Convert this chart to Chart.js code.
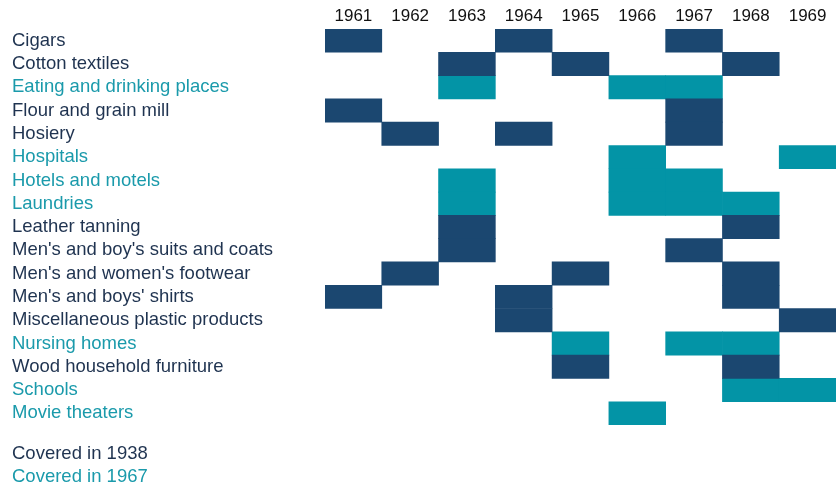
<!DOCTYPE html>
<html>
<head>
<meta charset="utf-8">
<script src="https://cdn.jsdelivr.net/npm/chart.js@4/dist/chart.umd.min.js"></script>
<style>
    html, body { margin: 0; padding: 0; background: #ffffff; overflow: hidden; }
    #wrap { position: relative; width: 836px; height: 487px; }
    .legend-line { position: absolute; left: 12px; font: 18.5px "Liberation Sans", Arial, sans-serif; line-height: 20px; }
</style>
</head>
<body>
<div id="wrap">
    <canvas id="coverageChart" width="836" height="487"></canvas>
    <div class="legend-line" style="top: 443px; color: #1f3350;">Covered in 1938</div>
    <div class="legend-line" style="top: 466px; color: #1a9aab;">Covered in 1967</div>
</div>
<script>
// Colonnes et lignes
const years = [1961, 1962, 1963, 1964, 1965, 1966, 1967, 1968, 1969];

const industries = [
    'Cigars',
    'Cotton textiles',
    'Eating and drinking places',
    'Flour and grain mill',
    'Hosiery',
    'Hospitals',
    'Hotels and motels',
    'Laundries',
    'Leather tanning',
    "Men's and boy's suits and coats",
    "Men's and women's footwear",
    "Men's and boys' shirts",
    'Miscellaneous plastic products',
    'Nursing homes',
    'Wood household furniture',
    'Schools',
    'Movie theaters'
];

// year each industry was first covered
const coveredSince = [1938, 1938, 1967, 1938, 1938, 1967, 1967, 1967, 1938, 1938, 1938, 1938, 1938, 1967, 1938, 1967, 1967];

// one row per industry, one column per year (1 = marked)
const marks = [
    [1, 0, 0, 1, 0, 0, 1, 0, 0],
    [0, 0, 1, 0, 1, 0, 0, 1, 0],
    [0, 0, 1, 0, 0, 1, 1, 0, 0],
    [1, 0, 0, 0, 0, 0, 1, 0, 0],
    [0, 1, 0, 1, 0, 0, 1, 0, 0],
    [0, 0, 0, 0, 0, 1, 0, 0, 1],
    [0, 0, 1, 0, 0, 1, 1, 0, 0],
    [0, 0, 1, 0, 0, 1, 1, 1, 0],
    [0, 0, 1, 0, 0, 0, 0, 1, 0],
    [0, 0, 1, 0, 0, 0, 1, 0, 0],
    [0, 1, 0, 0, 1, 0, 0, 1, 0],
    [1, 0, 0, 1, 0, 0, 0, 1, 0],
    [0, 0, 0, 1, 0, 0, 0, 0, 1],
    [0, 0, 0, 0, 1, 0, 1, 1, 0],
    [0, 0, 0, 0, 1, 0, 0, 1, 0],
    [0, 0, 0, 0, 0, 0, 0, 1, 1],
    [0, 0, 0, 0, 0, 1, 0, 0, 0]
];

const cellColors = { 1938: '#1b4770', 1967: '#0394a6' };
const labelColors = { 1938: '#1f3350', 1967: '#1a9aab' };

function cellsFor(group) {
    const cells = [];
    marks.forEach((row, i) => {
        if (coveredSince[i] !== group) return;
        row.forEach((m, j) => {
            if (m) cells.push({ x: [years[j] - 0.5, years[j] + 0.5], y: industries[i] });
        });
    });
    return cells;
}

const ctx = document.getElementById('coverageChart').getContext('2d');
new Chart(ctx, {
    type: 'bar',
    data: {
        labels: industries,
        datasets: [1938, 1967].map(g => ({
            label: 'Covered in ' + g,
            data: cellsFor(g),
            backgroundColor: cellColors[g],
            borderWidth: 0,
            borderSkipped: false,
            grouped: false,
            categoryPercentage: 1,
            barPercentage: 1
        }))
    },
    options: {
        indexAxis: 'y',
        responsive: false,
        animation: false,
        layout: { padding: { left: 12, right: 0, top: 0, bottom: 62 } },
        plugins: {
            legend: { display: false },
            tooltip: { enabled: false }
        },
        scales: {
            x: {
                type: 'linear',
                position: 'top',
                min: years[0] - 0.5,
                max: years[years.length - 1] + 0.5,
                afterBuildTicks: axis => { axis.ticks = years.map(v => ({ value: v })); },
                afterFit: axis => { axis.height = 29; },
                ticks: {
                    color: '#111111',
                    font: { family: 'Liberation Sans', size: 17 },
                    padding: 2,
                    maxRotation: 0,
                    autoSkip: false,
                    callback: v => String(v)
                },
                grid: { display: false, drawTicks: false, tickLength: 0 },
                border: { display: false }
            },
            y: {
                type: 'category',
                afterFit: axis => { axis.width = 313; },
                ticks: {
                    crossAlign: 'far',
                    padding: 0,
                    autoSkip: false,
                    font: { family: 'Liberation Sans', size: 18.5 },
                    color: c => labelColors[coveredSince[c.index]]
                },
                grid: { display: false, drawTicks: false },
                border: { display: false }
            }
        }
    }
});
</script>
</body>
</html>
